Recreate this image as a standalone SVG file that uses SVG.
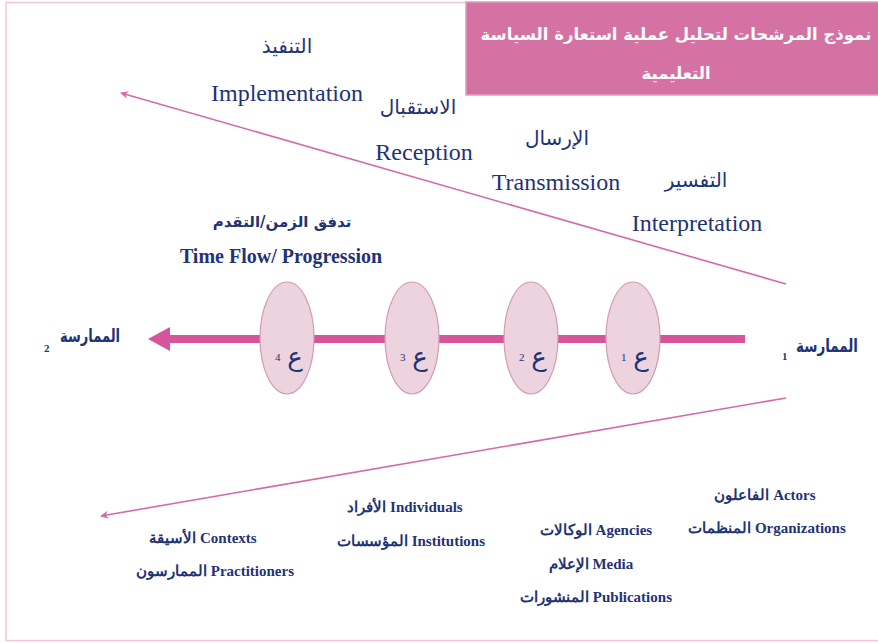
<svg xmlns="http://www.w3.org/2000/svg" width="878" height="643" viewBox="0 0 878 643">
<defs>
<style>
.t{fill:#1f3377;font-family:"Liberation Serif","DejaVu Serif",serif}
.ar{font-family:"DejaVu Sans","Noto Sans",sans-serif}
.b{font-weight:bold}
.thin{stroke:#d46aa8;stroke-width:1.6;fill:none}
.ell{fill:#ecd3de;stroke:#d39ab4;stroke-width:1.2}
</style>
<marker id="ah" viewBox="0 0 10 10" refX="9" refY="5" markerWidth="8" markerHeight="8" orient="auto" markerUnits="userSpaceOnUse">
<path d="M0,0 L10,5 L0,10 L3,5 z" fill="#d46aa8"/>
</marker>
</defs>
<rect x="0" y="0" width="878" height="643" fill="#fff"/>
<rect x="6" y="2.5" width="880" height="638" fill="none" stroke="#f5c2dc" stroke-width="1.5"/>
<g id="title">
<rect x="466" y="2" width="414" height="93" fill="#d472a4" stroke="#e49cc2" stroke-width="1.5"/>
<text x="676" y="40" text-anchor="middle" fill="#fff" font-family="DejaVu Sans,sans-serif" font-weight="bold" font-size="16.5">نموذج المرشحات لتحليل عملية استعارة السياسة</text>
<text x="676" y="79" text-anchor="middle" fill="#fff" font-family="DejaVu Sans,sans-serif" font-weight="bold" font-size="16.5">التعليمية</text>
</g>
<g id="connectors">
<line class="thin" x1="786" y1="284" x2="121" y2="93" marker-end="url(#ah)"/>
<line class="thin" x1="786" y1="398" x2="101" y2="516" marker-end="url(#ah)"/>
<line x1="745" y1="339" x2="168" y2="339" stroke="#d6549a" stroke-width="8"/>
<path d="M148,339 L170,327 L170,351 z" fill="#d6549a"/>
</g>
<g id="labels-top">
<text class="t ar" x="287" y="53" text-anchor="middle" font-size="20">التنفيذ</text>
<text class="t" x="287" y="101" text-anchor="middle" font-size="24">Implementation</text>
<text class="t ar" x="418" y="114" text-anchor="middle" font-size="20">الاستقبال</text>
<text class="t" x="424" y="160" text-anchor="middle" font-size="24">Reception</text>
<text class="t ar" x="557" y="145" text-anchor="middle" font-size="20">الإرسال</text>
<text class="t" x="556" y="190" text-anchor="middle" font-size="24">Transmission</text>
<text class="t ar" x="696" y="187" text-anchor="middle" font-size="20">التفسير</text>
<text class="t" x="697" y="231" text-anchor="middle" font-size="24">Interpretation</text>
<text class="t ar b" x="282" y="227" text-anchor="middle" font-size="15">تدفق الزمن/التقدم</text>
<text class="t b" x="281" y="263" text-anchor="middle" font-size="20">Time Flow/ Progression</text>
</g>
<g id="practice2">
<text class="t ar b" x="60" y="342" font-size="18" textLength="60" lengthAdjust="spacingAndGlyphs">الممارسة</text>
<text class="t b" x="44" y="352" font-size="11">2</text>
</g>
<g id="practice1">
<text class="t ar b" x="796" y="352" font-size="18" textLength="62" lengthAdjust="spacingAndGlyphs">الممارسة</text>
<text class="t b" x="782" y="360" font-size="11">1</text>
</g>
<g id="f4">
<ellipse class="ell" cx="287" cy="338" rx="27" ry="56"/>
<text class="t ar" x="295" y="366" text-anchor="middle" font-size="26">ع</text>
<text class="t" x="275" y="361" font-size="11">4</text>
</g>
<g id="f3">
<ellipse class="ell" cx="412" cy="338" rx="27" ry="56"/>
<text class="t ar" x="420" y="366" text-anchor="middle" font-size="26">ع</text>
<text class="t" x="400" y="361" font-size="11">3</text>
</g>
<g id="f2">
<ellipse class="ell" cx="531" cy="338" rx="27" ry="56"/>
<text class="t ar" x="539" y="366" text-anchor="middle" font-size="26">ع</text>
<text class="t" x="519" y="361" font-size="11">2</text>
</g>
<g id="f1">
<ellipse class="ell" cx="633" cy="338" rx="27" ry="56"/>
<text class="t ar" x="641" y="366" text-anchor="middle" font-size="26">ع</text>
<text class="t" x="621" y="361" font-size="11">1</text>
</g>
<g id="labels-bottom">
<text class="t b" x="765" y="500" text-anchor="middle" font-size="15">الفاعلون Actors</text>
<text class="t b" x="767" y="533" text-anchor="middle" font-size="15">المنظمات Organizations</text>
<text class="t b" x="596" y="535" text-anchor="middle" font-size="15">الوكالات Agencies</text>
<text class="t b" x="591" y="569" text-anchor="middle" font-size="15">الإعلام Media</text>
<text class="t b" x="596" y="602" text-anchor="middle" font-size="15">المنشورات Publications</text>
<text class="t b" x="405" y="512" text-anchor="middle" font-size="15">الأفراد Individuals</text>
<text class="t b" x="411" y="546" text-anchor="middle" font-size="15">المؤسسات Institutions</text>
<text class="t b" x="203" y="543" text-anchor="middle" font-size="15">الأسيقة Contexts</text>
<text class="t b" x="215" y="576" text-anchor="middle" font-size="15">الممارسون Practitioners</text>
</g>
</svg>
